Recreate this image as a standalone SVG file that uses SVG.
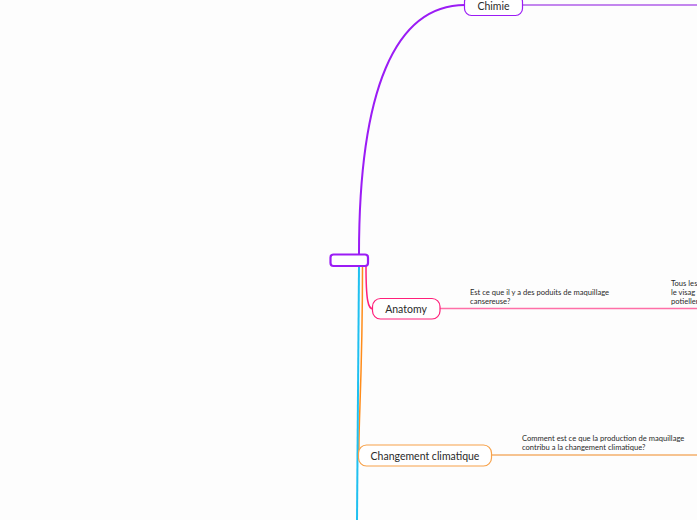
<svg xmlns="http://www.w3.org/2000/svg" width="697" height="520" viewBox="0 0 697 520">
<style>
.t{font-family:"Lato","Liberation Sans",sans-serif;fill:#2a2a2a}
.n{font-size:10.5px;text-anchor:middle;dominant-baseline:central}
.s{font-size:7.6px}
.c{fill:none}
</style>
<rect width="697" height="520" fill="#fdfdfd"/>
<g id="connectors" class="c">
  <path d="M359,254 C359,90 395,5 465,5" stroke="#9b1cf5" stroke-width="2"/>
  <path d="M523,5 L697,5" stroke="#8a10e0" stroke-width="1.1"/>
  <path d="M366,266 C366,300 368,309 373,309" stroke="#ff1f7a" stroke-width="1.5"/>
  <path d="M440,308.5 L697,308.5" stroke="#ff6fa8" stroke-width="1.5"/>
  <path d="M362.5,266 C362.5,380 358,430 359,455" stroke="#ff8c1a" stroke-width="1.5"/>
  <path d="M492,455 L697,455" stroke="#f08a24" stroke-width="1.2"/>
  <path d="M359,266 L357,520" stroke="#1fc0f0" stroke-width="2"/>
</g>
<g id="central">
  <rect x="330.5" y="254.5" width="37.5" height="11.5" rx="3" fill="#fff" stroke="#9b1cf5" stroke-width="2.2"/>
</g>
<g id="chimie">
  <rect x="464.5" y="-5" width="58" height="20.5" rx="7" fill="#fff" stroke="#9b1cf5" stroke-width="1.2"/>
  <text class="t n" x="493.5" y="5.5">Chimie</text>
</g>
<g id="anatomy">
  <rect x="372.5" y="298.5" width="67.5" height="20.5" rx="8" fill="#fff" stroke="#ff1f7a" stroke-width="1.2"/>
  <text class="t n" x="406" y="309">Anatomy</text>
  <text class="t s" x="470" y="295">Est ce que il y a des poduits de maquillage</text>
  <text class="t s" x="470" y="304">cansereuse?</text>
  <text class="t s" x="671" y="286">Tous les</text>
  <text class="t s" x="671" y="295">le visag</text>
  <text class="t s" x="671" y="304">potieller</text>
</g>
<g id="changement">
  <rect x="358.5" y="445" width="133" height="21" rx="8" fill="#fff" stroke="#f7a24a" stroke-width="1.2"/>
  <text class="t n" x="425" y="456">Changement climatique</text>
  <text class="t s" x="522" y="440.5">Comment est ce que la production de maquillage</text>
  <text class="t s" x="522" y="450">contribu a la changement climatique?</text>
</g>
</svg>
